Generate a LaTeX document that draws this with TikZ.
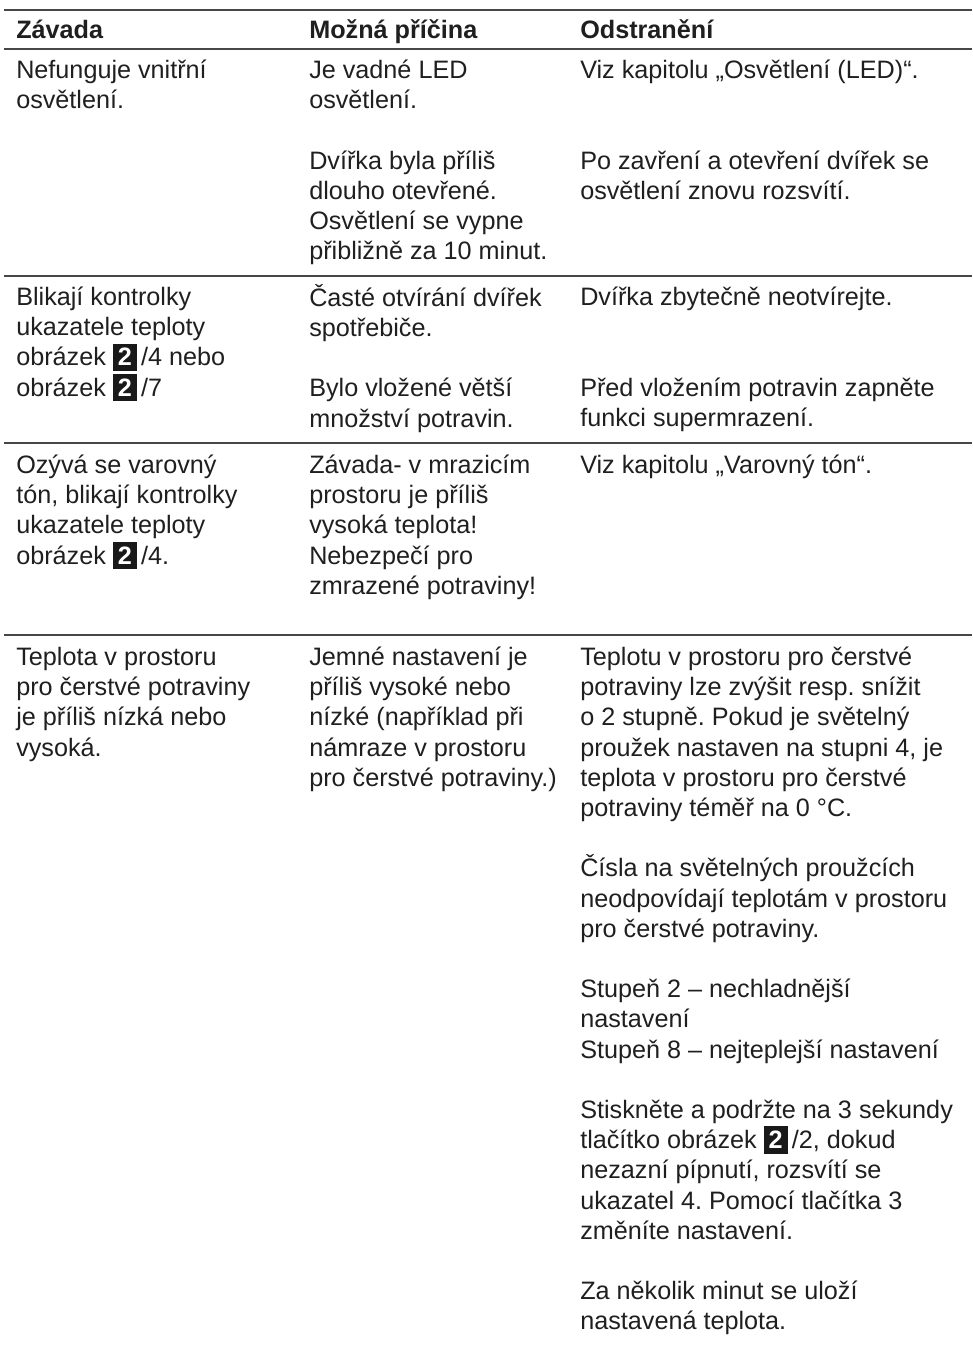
\documentclass[tikz,border=0pt]{standalone}
\usepackage{fontspec}
\setmainfont{Liberation Sans}
\frenchspacing

\newcommand{\cellfont}{\fontsize{18.9}{22.65}\selectfont}
\newcommand{\obr}{{\setlength{\fboxsep}{0pt}\colorbox{black!90}{\makebox[0.95em]{\rule[-0.2em]{0pt}{1.08em}\textcolor{white}{\bfseries 2}}}}\,}

\tikzset{
  cell/.style={anchor=north west, inner sep=0pt, align=left, font=\cellfont, text=black!88},
  head/.style={cell, font=\cellfont\bfseries},
  tablerule/.style={line width=1.2pt, black!72}
}

\begin{document}
\begin{tikzpicture}[x=0.75pt, y=-0.75pt]
    \useasboundingbox (0,0) rectangle (972,1347);
    % horizontal rules
    \foreach \y in {10,49,276,443,635}
    \draw[tablerule] (4,\y) -- (972,\y);

    % header
    \node[head] (hfault) at (16,17) {\strut Závada};
    \node[head] (hcause) at (309,17) {\strut Možná příčina};
    \node[head] (hfix) at (580,17) {\strut Odstranění};

    % row 1
    \node[cell] (fault1) at (16,57) {\strut Nefunguje vnitřní\\osvětlení.};
    \node[cell] (cause1) at (309,57) {\strut Je vadné LED\\osvětlení.\\[\baselineskip]Dvířka byla příliš\\dlouho otevřené.\\Osvětlení se vypne\\přibližně za 10 minut.};
    \node[cell] (fix1) at (580,57) {\strut Viz kapitolu „Osvětlení (LED)“.\\[2\baselineskip]Po zavření a otevření dvířek se\\osvětlení znovu rozsvítí.};

    % row 2
    \node[cell] (fault2) at (16,284) {\strut Blikají kontrolky\\ukazatele teploty\\obrázek \obr/4 nebo\\obrázek \obr/7};
    \node[cell] (cause2) at (309,284) {\strut Časté otvírání dvířek\\spotřebiče.\\[\baselineskip]Bylo vložené větší\\množství potravin.};
    \node[cell] (fix2) at (580,284) {\strut Dvířka zbytečně neotvírejte.\\[2\baselineskip]Před vložením potravin zapněte\\funkci supermrazení.};

    % row 3
    \node[cell] (fault3) at (16,452) {\strut Ozývá se varovný\\tón, blikají kontrolky\\ukazatele teploty\\obrázek \obr/4.};
    \node[cell] (cause3) at (309,452) {\strut Závada- v mrazicím\\prostoru je příliš\\vysoká teplota!\\Nebezpečí pro\\zmrazené potraviny!};
    \node[cell] (fix3) at (580,452) {\strut Viz kapitolu „Varovný tón“.};

    % row 4
    \node[cell] (fault4) at (16,644) {\strut Teplota v prostoru\\pro čerstvé potraviny\\je příliš nízká nebo\\vysoká.};
    \node[cell] (cause4) at (309,644) {\strut Jemné nastavení je\\příliš vysoké nebo\\nízké (například při\\námraze v prostoru\\pro čerstvé potraviny.)};
    \node[cell] (fix4) at (580,644) {\strut Teplotu v prostoru pro čerstvé\\potraviny lze zvýšit resp. snížit\\o 2 stupně. Pokud je světelný\\proužek nastaven na stupni 4, je\\teplota v prostoru pro čerstvé\\potraviny téměř na 0 °C.\\[\baselineskip]Čísla na světelných proužcích\\neodpovídají teplotám v prostoru\\pro čerstvé potraviny.\\[\baselineskip]Stupeň 2 – nechladnější\\nastavení\\Stupeň 8 – nejteplejší nastavení\\[\baselineskip]Stiskněte a podržte na 3 sekundy\\tlačítko obrázek \obr/2, dokud\\nezazní pípnutí, rozsvítí se\\ukazatel 4. Pomocí tlačítka 3\\změníte nastavení.\\[\baselineskip]Za několik minut se uloží\\nastavená teplota.};
\end{tikzpicture}
\end{document}
